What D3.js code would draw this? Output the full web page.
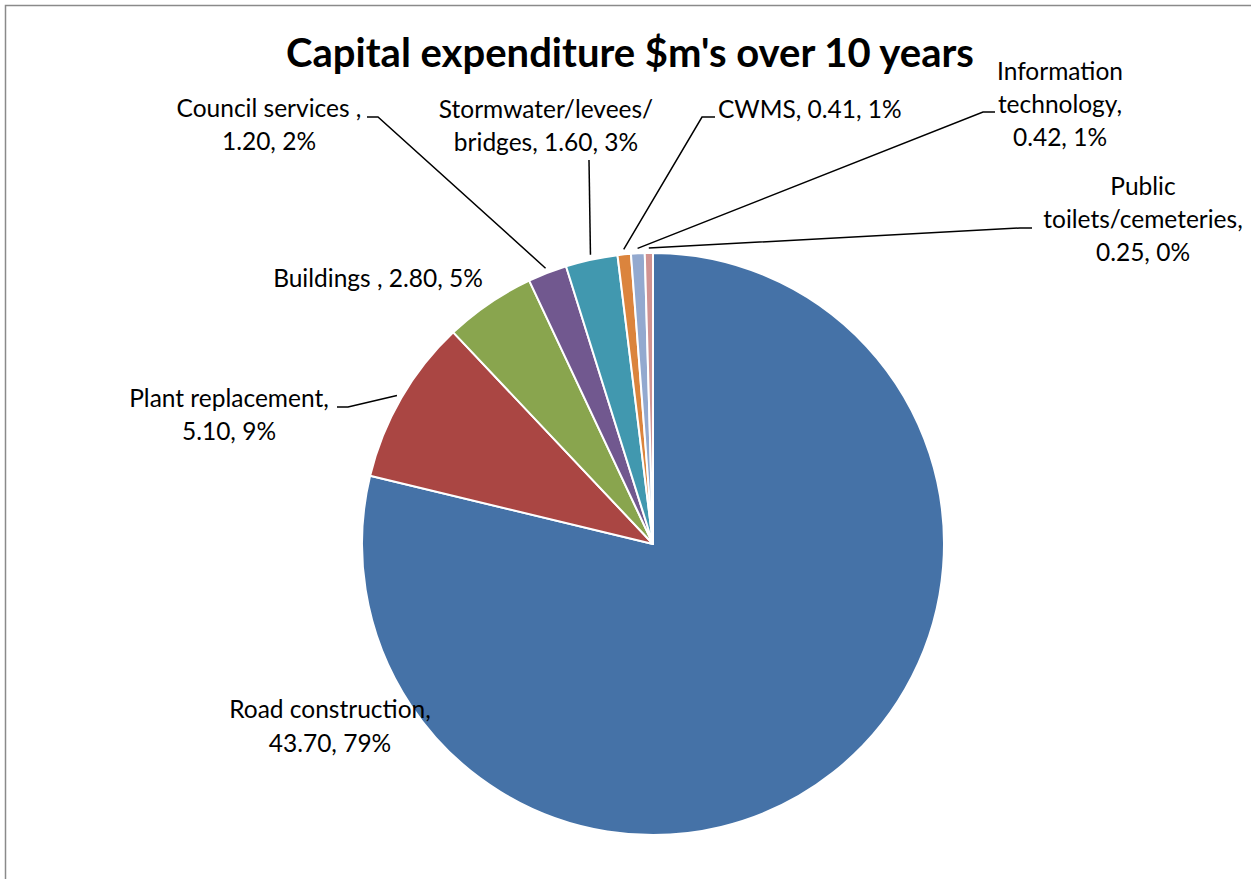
<!DOCTYPE html>
<html>
<head>
<meta charset="utf-8">
<script src="https://cdn.jsdelivr.net/npm/d3@7"></script>
<style>
  html, body { margin: 0; padding: 0; background: #fff; }
  svg { display: block; }
  text { font-family: Lato, "Open Sans", sans-serif; fill: #000; }
</style>
</head>
<body>
<svg id="chart" width="1251" height="879"></svg>
<script>
// Capital expenditure categories and amounts ($m over 10 years)
const categories = [
  "Road construction",
  "Plant replacement",
  "Buildings ",
  "Council services ",
  "Stormwater/levees/bridges",
  "CWMS",
  "Information technology",
  "Public toilets/cemeteries"
];
const values = [43.70, 5.10, 2.80, 1.20, 1.60, 0.41, 0.42, 0.25];
const colors = ["#4572A7", "#AA4643", "#89A54E", "#71588F", "#4198AF", "#DB843D", "#93A9CF", "#D19392"];
const titleText = "Capital expenditure $m's over 10 years";

// Label placement: text lines, centre x, first baseline, line step, and leader stub
const labelLayout = [
  { lines: ["Road construction,", "{v}, {p}"], x: 330, y: 718, dy: 34, anchor: "middle" },
  { lines: ["Plant replacement,", "{v}, {p}"], x: 229, y: 407, dy: 33, anchor: "middle", stub: [337, 407, 348] },
  { lines: ["Buildings , {v}, {p}"], x: 378, y: 287, dy: 0, anchor: "middle" },
  { lines: ["Council services ,", "{v}, {p}"], x: 269, y: 117, dy: 33, anchor: "middle", stub: [367, 117, 378] },
  { lines: ["Stormwater/levees/", "bridges, {v}, {p}"], x: 546, y: 118, dy: 33, anchor: "middle", stub: [589, 160, 589] },
  { lines: ["CWMS, {v}, {p}"], x: 718, y: 118, dy: 0, anchor: "start", stub: [715, 117, 702] },
  { lines: ["Information", "technology,", "{v}, {p}"], x: 1060, y: 80, dy: 33, anchor: "middle", stub: [995, 112, 983] },
  { lines: ["Public", "toilets/cemeteries,", "{v}, {p}"], x: 1143, y: 195, dy: 33, anchor: "middle", stub: [1032, 228, 1020] }
];

const cx = 653, cy = 544, radius = 291;

const svg = d3.select("#chart");

// Chart area frame
svg.append("rect")
  .attr("x", 5.5).attr("y", 5.5)
  .attr("width", 1400).attr("height", 1000)
  .attr("fill", "#fff")
  .attr("stroke", "#8a8a8a")
  .attr("stroke-width", 1.5);

// Title
svg.append("text")
  .attr("x", 630).attr("y", 67)
  .attr("text-anchor", "middle")
  .style("font-size", "40px")
  .style("font-weight", "bold")
  .text(titleText);

const total = d3.sum(values);
const fmtVal = d3.format(".2f");
const fmtPct = v => Math.round(v / total * 100) + "%";

const pie = d3.pie().sort(null).value(d => d.value).startAngle(0).endAngle(2 * Math.PI);
const arcs = pie(categories.map((c, i) => ({ name: c, value: values[i], color: colors[i] })));
const arc = d3.arc().innerRadius(0).outerRadius(radius);

const g = svg.append("g").attr("transform", `translate(${cx},${cy})`);
g.selectAll("path.slice")
  .data(arcs)
  .join("path")
  .attr("class", "slice")
  .attr("d", arc)
  .attr("fill", d => d.data.color)
  .attr("stroke", "#fff")
  .attr("stroke-width", 2)
  .attr("stroke-linejoin", "round");

// Leader lines from label stubs to the slice edge
arcs.forEach((d, i) => {
  const L = labelLayout[i];
  if (!L.stub) return;
  const mid = (d.startAngle + d.endAngle) / 2;
  const ex = cx + (radius + 5) * Math.sin(mid);
  const ey = cy - (radius + 5) * Math.cos(mid);
  const [sx, sy, kx] = L.stub;
  svg.append("path")
    .attr("d", d3.line()([[sx, sy], [kx, sy], [ex, ey]]))
    .attr("fill", "none")
    .attr("stroke", "#000")
    .attr("stroke-width", 1.5);
});

// Data labels
arcs.forEach((d, i) => {
  const L = labelLayout[i];
  const t = svg.append("text")
    .attr("text-anchor", L.anchor)
    .style("font-size", "24.5px");
  L.lines.forEach((ln, j) => {
    t.append("tspan")
      .attr("x", L.x)
      .attr("y", L.y + j * L.dy)
      .text(ln.replace("{v}", fmtVal(d.data.value)).replace("{p}", fmtPct(d.data.value)));
  });
});
</script>
</body>
</html>
